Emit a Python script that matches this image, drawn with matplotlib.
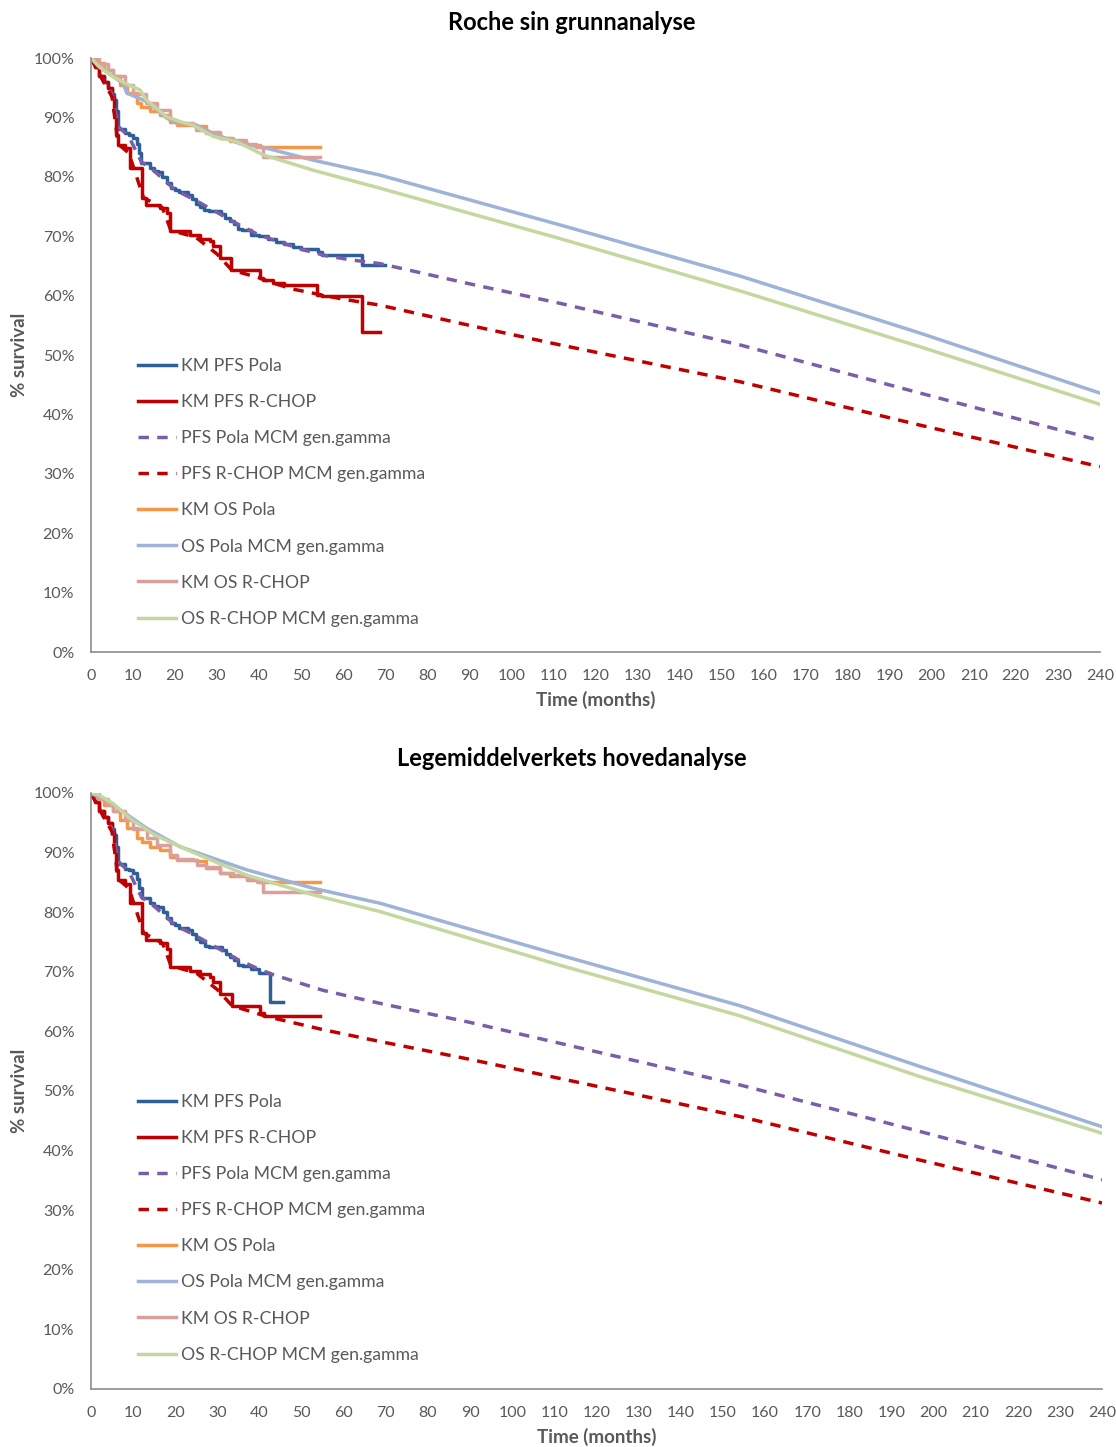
import matplotlib.pyplot as plt
from matplotlib.ticker import MultipleLocator, FuncFormatter

plt.rcParams['font.family'] = ['Lato', 'DejaVu Sans']

# ---- data (months, % survival) ----
# KM PFS Pola
km_pfs_pola_t = [0, 1, 2, 3, 4, 5, 5.5, 6, 6.5, 8, 9, 10, 11, 11.5, 12, 14, 15, 16, 17, 18, 19, 20, 21, 23,
                 24, 25, 26, 27, 28, 31, 32, 33, 34, 35, 36, 38, 40, 42, 44, 46, 48, 50, 54, 55, 64.5, 70]
km_pfs_pola_s = [100, 98.5, 97, 96, 95, 94, 93, 91, 88, 87.3, 87, 86.5, 85.5, 84, 82.3, 81.5, 81, 80.8, 80, 79,
                 78.2, 77.8, 77.4, 77, 76.3, 75.5, 75, 74.4, 74.2, 73.7, 73, 72.5, 72, 71.2, 71, 70.2, 70, 69.6,
                 69, 68.7, 68.2, 67.8, 67.3, 66.8, 65.2, 65.2]
km_pfs_pola_t2 = [0, 1, 2, 3, 4, 5, 5.5, 6, 6.5, 8, 9, 10, 11, 11.5, 12, 14, 15, 16, 17, 18, 19, 20, 21, 23,
                  24, 25, 26, 27, 28, 31, 32, 33, 34, 35, 36, 38, 40, 42.5, 45.6]
km_pfs_pola_s2 = [100, 98.5, 97, 96, 95, 94, 93, 91, 88, 87.3, 87, 86.5, 85.5, 84, 82.3, 81.5, 81, 80.8, 80, 79,
                  78.2, 77.8, 77.4, 77, 76.3, 75.5, 75, 74.4, 74.2, 73.7, 73, 72.5, 72, 71.2, 71, 70.5, 69.8, 65, 65]

# KM PFS R-CHOP
km_pfs_rchop_t = [0, 1, 2, 3, 4, 5, 5.5, 6, 6.5, 8, 9.3, 12.2, 13, 16.4, 18, 18.8, 23.5, 26, 28.3, 29, 30.7,
                  33.4, 40.2, 41, 43.4, 46, 53.7, 55, 64.4, 68.7]
km_pfs_rchop_s = [100, 98.5, 97, 96, 95, 93.5, 91, 87, 85.4, 84.8, 81.5, 76.5, 75.3, 74.8, 73.9, 70.8, 70.2, 69.6,
                  69.2, 68.3, 66.3, 64.3, 63.0, 62.6, 62.1, 61.8, 60.1, 59.9, 53.9, 53.9]
km_pfs_rchop_t2 = [0, 1, 2, 3, 4, 5, 5.5, 6, 6.5, 8, 9.3, 12.2, 13, 16.4, 18, 18.8, 23.5, 26, 28.3, 29, 30.7,
                   33.4, 40.2, 41, 54.4]
km_pfs_rchop_s2 = [100, 98.5, 97, 96, 95, 93.5, 91, 87, 85.4, 84.8, 81.5, 76.5, 75.3, 74.8, 73.9, 70.8, 70.2, 69.6,
                   69.2, 68.3, 66.3, 64.3, 63.0, 62.5, 62.5]

# PFS MCM gen.gamma
pfs_pola_mcm_t = [0, 3, 5, 6.5, 9, 12, 15, 20, 25, 30, 35, 40, 45, 50, 56, 62, 68.7, 90, 111.6, 154.4, 197.2, 240]
pfs_pola_mcm_s = [100, 96, 94, 88.5, 86.8, 82.5, 81, 77.8, 76, 74, 72, 70.2, 69, 67.8, 66.7, 66, 65.4, 62, 58.7,
                  51.7, 43.6, 35.6]
pfs_rchop_mcm_t = [0, 3, 5, 6.5, 9, 12.5, 17, 19, 25, 30, 33.5, 40, 43.4, 48, 55, 60, 68.7, 90, 111.6, 154.4,
                   197.2, 240]
pfs_rchop_mcm_s = [100, 96, 93.5, 85.5, 84, 76.5, 74.8, 71, 69.8, 67, 64.3, 63, 62.1, 61.1, 60.1, 59.4, 58.4,
                   55, 51.7, 45.5, 38.2, 31.2]
pfs_pola_mcm_t2 = [0, 3, 5, 6.5, 9, 12, 15, 20, 25, 30, 35, 40, 43.3, 55, 68.6, 90, 111.3, 154.1, 196.8, 240]
pfs_pola_mcm_s2 = [100, 96, 94, 88.5, 86.8, 82.5, 81, 77.8, 76, 74, 72, 70.4, 69.5, 66.9, 64.7, 61.5, 58.0, 51.0,
                   43.2, 35.1]
pfs_rchop_mcm_t2 = [0, 3, 5, 6.5, 9, 12.5, 17, 19, 25, 30, 33.5, 41.7, 55, 68.6, 90, 111.3, 154.1, 196.8, 240]
pfs_rchop_mcm_s2 = [100, 96, 93.5, 85.5, 84, 76.5, 74.8, 71, 69.8, 67, 64.3, 62.5, 60.3, 58.3, 55.3, 52.1, 45.7,
                    38.4, 31.2]

# KM OS
km_os_pola_t = [0, 1.4, 3, 5.3, 7, 8.5, 10.9, 12, 14, 16.4, 18.8, 20.4, 25.1, 27.4, 30.6, 33, 37, 40.1, 54.4]
km_os_pola_s = [100, 99.1, 98, 96.9, 95.5, 94.1, 92.4, 91.8, 91.0, 90.4, 89.3, 88.8, 88.5, 87.4, 86.5, 86, 85.4,
                85.1, 85.1]
km_os_rchop_t = [0, 2, 4, 5.3, 8, 10, 13.2, 15.6, 18.8, 20.4, 24.3, 25.1, 27.4, 30.6, 33.8, 37, 39.3, 40.9, 54.4]
km_os_rchop_s = [100, 99, 98, 96.9, 95.5, 94, 92.4, 91.3, 89.6, 89.0, 88.8, 87.9, 87.6, 86.5, 86.2, 85.6, 85.1,
                 83.4, 83.4]

# OS MCM gen.gamma
os_pola_mcm_t = [0, 2, 5.2, 7.7, 8.5, 13.2, 18, 20.4, 25.1, 29.1, 35.4, 40.2, 52.9, 68.7, 111.6, 154.4, 197.2, 240]
os_pola_mcm_s = [100, 98.5, 96.9, 95.7, 94.1, 92.7, 89.9, 89, 88.7, 87.3, 85.6, 85.1, 82.8, 80.3, 71.9, 63.3,
                 53.7, 43.6]
os_rchop_mcm_t = [0, 2, 5.2, 8, 11.7, 13.2, 18, 21.2, 24.3, 29.1, 34.7, 41, 52.9, 68.7, 111.6, 154.4, 197.2, 240]
os_rchop_mcm_s = [100, 98.5, 96.9, 95.8, 94.6, 92.9, 90.1, 89.3, 88.7, 86.8, 85.9, 83.7, 81.1, 78.1, 69.6, 60.8,
                  51.4, 41.7]
os_pola_mcm_t2 = [0, 1, 5.3, 9.3, 13.2, 21.1, 30, 37, 52.8, 68.6, 111.3, 154.1, 196.8, 240]
os_pola_mcm_s2 = [100, 99.6, 98.0, 96.0, 94.1, 91.0, 88.8, 87.1, 84.0, 81.5, 72.8, 64.3, 54.1, 44.0]
os_rchop_mcm_t2 = [0, 1.5, 5.3, 9.3, 15, 21.1, 30, 37, 52.8, 68.6, 111.3, 154.1, 196.8, 240]
os_rchop_mcm_s2 = [100, 99.8, 98.2, 95.7, 93, 91.0, 88.3, 86.2, 82.9, 80.1, 71.1, 62.6, 52.4, 42.9]

labels = ['KM PFS Pola', 'KM PFS R-CHOP', 'PFS Pola MCM gen.gamma', 'PFS R-CHOP MCM gen.gamma',
          'KM OS Pola', 'OS Pola MCM gen.gamma', 'KM OS R-CHOP', 'OS R-CHOP MCM gen.gamma']
colors = ['#2f5f98', '#c00000', '#7a5ea8', '#c00000', '#f79646', '#9db3d8', '#d9a09e', '#c4d79e']

titles = ['Roche sin grunnanalyse', 'Legemiddelverkets hovedanalyse']
grey = '#595959'

panels = [
    [(km_pfs_pola_t, km_pfs_pola_s), (km_pfs_rchop_t, km_pfs_rchop_s),
     (pfs_pola_mcm_t, pfs_pola_mcm_s), (pfs_rchop_mcm_t, pfs_rchop_mcm_s),
     (km_os_pola_t, km_os_pola_s), (os_pola_mcm_t, os_pola_mcm_s),
     (km_os_rchop_t, km_os_rchop_s), (os_rchop_mcm_t, os_rchop_mcm_s)],
    [(km_pfs_pola_t2, km_pfs_pola_s2), (km_pfs_rchop_t2, km_pfs_rchop_s2),
     (pfs_pola_mcm_t2, pfs_pola_mcm_s2), (pfs_rchop_mcm_t2, pfs_rchop_mcm_s2),
     (km_os_pola_t, km_os_pola_s), (os_pola_mcm_t2, os_pola_mcm_s2),
     (km_os_rchop_t, km_os_rchop_s), (os_rchop_mcm_t2, os_rchop_mcm_s2)],
]

fig = plt.figure(figsize=(11.16, 14.47), dpi=100)
axes_pos = [[0.0815, 0.5494, 0.904, 0.4105], [0.0815, 0.0401, 0.906, 0.4119]]
title_y = [1 - 23 / 1447, 1 - 758 / 1447]

for p in range(2):
    ax = fig.add_axes(axes_pos[p])
    for i, (t, s) in enumerate(panels[p]):
        if i in (2, 3):
            ax.plot(t, s, color=colors[i], lw=2.5, dashes=(3.0, 2.4), label=labels[i])
        elif i in (0, 1, 4, 6):
            ax.plot(t, s, color=colors[i], lw=2.5, drawstyle='steps-post', label=labels[i])
        else:
            ax.plot(t, s, color=colors[i], lw=2.5, label=labels[i])

    ax.set_xlim(0, 240)
    ax.set_ylim(0, 100)
    ax.xaxis.set_major_locator(MultipleLocator(10))
    ax.yaxis.set_major_locator(MultipleLocator(10))
    ax.yaxis.set_major_formatter(FuncFormatter(lambda v, pos: f'{v:.0f}%'))
    for side in ['top', 'right']:
        ax.spines[side].set_visible(False)
    for side in ['left', 'bottom']:
        ax.spines[side].set_color('#8c8c8c')
        ax.spines[side].set_linewidth(1.2)
    ax.tick_params(length=0, labelsize=11.5, colors=grey, pad=12)
    ax.tick_params(axis='y', pad=12)
    ax.set_xlabel('Time (months)', fontsize=13.5, fontweight='bold', color=grey, labelpad=6)
    ax.set_ylabel('% survival', fontsize=13.5, fontweight='bold', color=grey)
    ax.yaxis.set_label_coords(-0.062, 0.5)

    leg = ax.legend(loc='upper left', bbox_to_anchor=(0.0466, 0.495), frameon=False, fontsize=12.7,
                    handlelength=2.15, handletextpad=0.28, labelspacing=1.14, borderpad=0,
                    borderaxespad=0)
    for txt in leg.get_texts():
        txt.set_color(grey)

    fig.text(572 / 1116, title_y[p], titles[p], ha='center', va='center', fontsize=17, fontweight='bold')

fig.savefig('out.png', dpi=100)
